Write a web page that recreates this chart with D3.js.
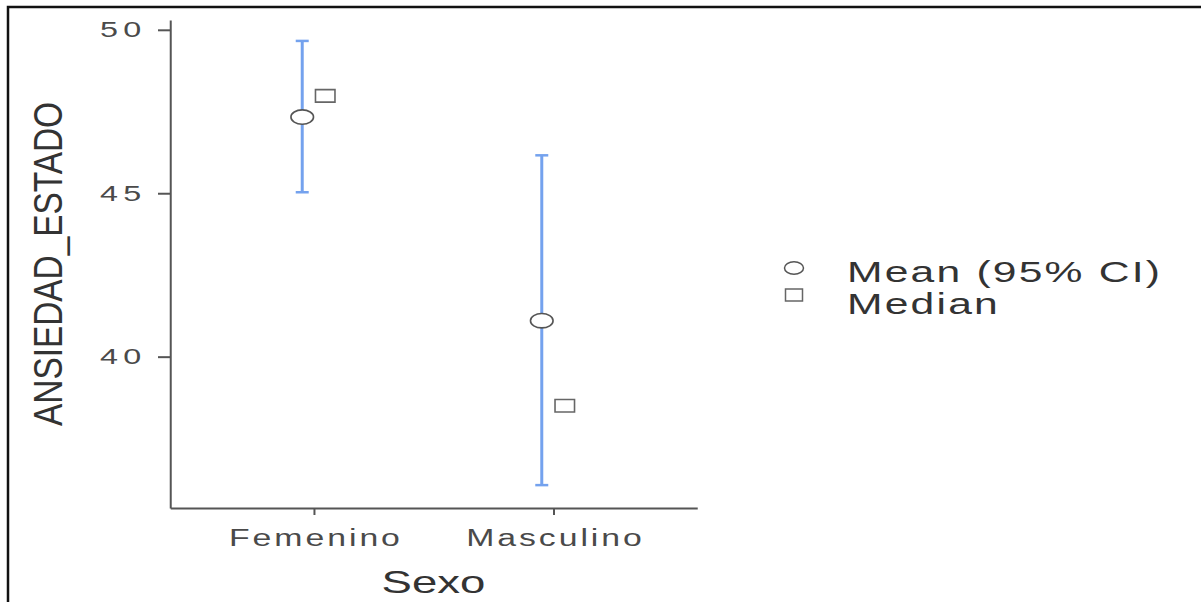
<!DOCTYPE html>
<html>
<head>
<meta charset="utf-8">
<script src="https://cdn.jsdelivr.net/npm/d3@7"></script>
<style>
  body { margin: 0; background: #fff; }
  svg * { vector-effect: non-scaling-stroke; }
  text { font-family: "Liberation Sans", Arial, sans-serif; }
</style>
</head>
<body>
<div id="chart"></div>
<script>
// data
var groups = ["Femenino", "Masculino"];
var means = [47.33, 41.10];
var ciLower = [45.03, 36.07];
var ciUpper = [49.66, 46.16];
var medians = [47.98, 38.50];
var yTicks = [40, 45, 50];
var legendLabels = ["Mean (95% CI)", "Median"];
var xTitle = "Sexo";
var yTitle = "ANSIEDAD_ESTADO";

function init() {
  // the reference picture is stretched sideways, so draw in a narrower box and stretch it
  var sx = 1.47;
  var w = 1201 / sx;
  var h = 602;

  var blue = "#74a2ee";
  var axisColor = "#555";

  var svg = d3.select("#chart")
    .append("svg")
    .attr("width", 1201)
    .attr("height", 602)
    .attr("viewBox", "0 0 " + w + " " + h)
    .attr("preserveAspectRatio", "none");

  // frame (left and top edge only show)
  svg.append("path")
    .attr("d", "M" + (8 / sx) + "," + h + "V7H" + w)
    .attr("fill", "none")
    .attr("stroke", "#111")
    .attr("stroke-width", 2.5);

  // scales
  var x = d3.scalePoint()
    .domain(groups)
    .range([170 / sx, 697 / sx])
    .padding(0.6);

  var y = d3.scaleLinear()
    .domain([35.37, 50.3])
    .range([508, 20]);

  var dodge = 11.5 / sx;

  // axes
  var yAxis = svg.append("g")
    .attr("transform", "translate(" + x.range()[0] + ",0)")
    .call(d3.axisLeft(y).tickValues(yTicks).tickSize(12 / sx).tickSizeOuter(0).tickPadding(8));

  var xAxis = svg.append("g")
    .attr("transform", "translate(0," + y.range()[0] + ")")
    .call(d3.axisBottom(x).tickSize(7).tickSizeOuter(0).tickPadding(14.5));

  [yAxis, xAxis].forEach(function(a) {
    a.select(".domain").attr("stroke", axisColor).attr("stroke-width", 2);
    a.selectAll(".tick line").attr("stroke", axisColor).attr("stroke-width", 2);
    a.selectAll(".tick text")
      .attr("fill", "#4a4a4a")
      .attr("font-family", "Liberation Sans, Arial, sans-serif")
      .attr("font-size", 23);
  });
  yAxis.selectAll(".tick text").style("letter-spacing", "3.5px").attr("font-size", 22);
  xAxis.selectAll(".tick text").style("letter-spacing", "2px").attr("dx", 1);

  // axis titles
  svg.append("text")
    .attr("x", (x.range()[0] + x.range()[1]) / 2)
    .attr("y", 593)
    .attr("text-anchor", "middle")
    .attr("font-size", 31)
    .attr("fill", "#333")
    .text(xTitle);

  svg.append("text")
    .attr("transform", "translate(" + (62 / sx) + "," + ((y.range()[0] + y.range()[1]) / 2) + ") rotate(-90) scale(1,0.82)")
    .attr("text-anchor", "middle")
    .attr("font-size", 33.4)
    .attr("fill", "#333")
    .text(yTitle);

  var rows = groups.map(function(g, i) {
    return { group: g, mean: means[i], lo: ciLower[i], hi: ciUpper[i], med: medians[i] };
  });

  var marks = svg.append("g");

  // CI bars
  marks.selectAll(".ci")
    .data(rows)
    .enter()
    .append("line")
    .attr("x1", function(d) { return x(d.group) - dodge; })
    .attr("x2", function(d) { return x(d.group) - dodge; })
    .attr("y1", function(d) { return y(d.lo); })
    .attr("y2", function(d) { return y(d.hi); })
    .attr("stroke", blue)
    .attr("stroke-width", 3);

  // whisker caps
  var capHalf = 6.5 / sx;
  ["lo", "hi"].forEach(function(k) {
    marks.selectAll(".cap-" + k)
      .data(rows)
      .enter()
      .append("line")
      .attr("x1", function(d) { return x(d.group) - dodge - capHalf; })
      .attr("x2", function(d) { return x(d.group) - dodge + capHalf; })
      .attr("y1", function(d) { return y(d[k]); })
      .attr("y2", function(d) { return y(d[k]); })
      .attr("stroke", blue)
      .attr("stroke-width", 2.5);
  });

  // means
  marks.selectAll(".mean")
    .data(rows)
    .enter()
    .append("ellipse")
    .attr("cx", function(d) { return x(d.group) - dodge; })
    .attr("cy", function(d) { return y(d.mean); })
    .attr("rx", 11.3 / sx)
    .attr("ry", 7.2)
    .attr("fill", "#fff")
    .attr("stroke", "#555")
    .attr("stroke-width", 1.6);

  // medians
  var sqW = 19.5 / sx, sqH = 12.5;
  marks.selectAll(".median")
    .data(rows)
    .enter()
    .append("rect")
    .attr("x", function(d) { return x(d.group) + dodge - sqW / 2; })
    .attr("y", function(d) { return y(d.med) - sqH / 2; })
    .attr("width", sqW)
    .attr("height", sqH)
    .attr("fill", "#fff")
    .attr("stroke", "#666")
    .attr("stroke-width", 1.6);

  // legend: symbols and labels sit on slightly different row spacings in the reference
  var legend = svg.append("g")
    .attr("transform", "translate(" + (794 / sx) + ",268)");

  legend.append("ellipse")
    .attr("rx", 9.5 / sx)
    .attr("ry", 6.3)
    .attr("fill", "#fff")
    .attr("stroke", "#555")
    .attr("stroke-width", 1.5);

  legend.append("rect")
    .attr("x", -8.5 / sx)
    .attr("y", 27 - 6)
    .attr("width", 17 / sx)
    .attr("height", 12)
    .attr("fill", "#fff")
    .attr("stroke", "#666")
    .attr("stroke-width", 1.5);

  legend.selectAll(".label")
    .data(legendLabels)
    .enter()
    .append("text")
    .attr("x", (847 - 794) / sx)
    .attr("y", function(d, i) { return 13.5 + i * 32.5; })
    .attr("font-size", 29)
    .style("letter-spacing", "1.5px")
    .attr("fill", "#333")
    .text(function(d) { return d; });
}

window.onload = init;
</script>
</body>
</html>
